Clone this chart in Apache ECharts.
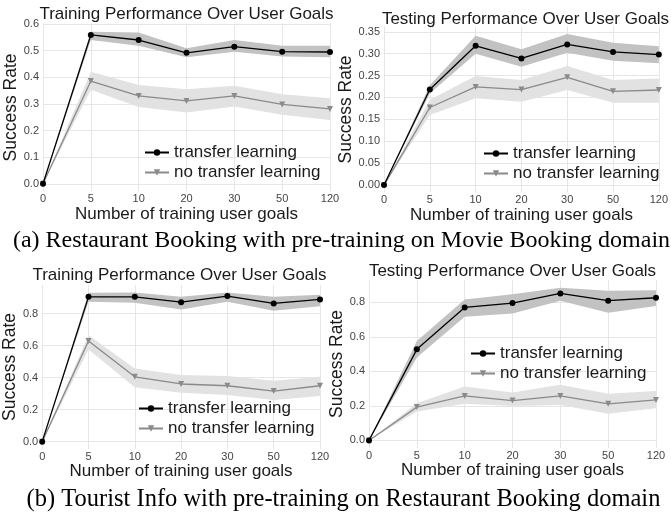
<!DOCTYPE html>
<html>
<head>
<meta charset="utf-8">
<script src="https://cdn.jsdelivr.net/npm/echarts@6/dist/echarts.min.js"></script>
<style>
  html, body { margin: 0; padding: 0; background: #fff; }
  #chart { width: 671px; height: 515px; }
</style>
</head>
<body>
<div id="chart"></div>
<script>
// x categories (number of training user goals)
const categories = ['0', '5', '10', '20', '30', '50', '120'];

// (a) Restaurant Booking, training
const aTrainTransfer   = [0, 0.559, 0.540, 0.492, 0.515, 0.496, 0.495];
const aTrainTransferLo = [0, 0.540, 0.518, 0.475, 0.496, 0.478, 0.475];
const aTrainTransferHi = [0, 0.571, 0.568, 0.509, 0.540, 0.518, 0.518];
const aTrainBase       = [0, 0.386, 0.330, 0.311, 0.330, 0.298, 0.281];
const aTrainBaseLo     = [0, 0.353, 0.288, 0.268, 0.290, 0.259, 0.240];
const aTrainBaseHi     = [0, 0.421, 0.371, 0.355, 0.368, 0.336, 0.321];

// (a) Restaurant Booking, testing
const aTestTransfer   = [0, 0.218, 0.318, 0.289, 0.321, 0.304, 0.298];
const aTestTransferLo = [0, 0.209, 0.300, 0.270, 0.302, 0.284, 0.278];
const aTestTransferHi = [0, 0.228, 0.341, 0.310, 0.345, 0.325, 0.317];
const aTestBase       = [0, 0.177, 0.224, 0.218, 0.246, 0.214, 0.217];
const aTestBaseLo     = [0, 0.160, 0.198, 0.190, 0.217, 0.188, 0.188];
const aTestBaseHi     = [0, 0.195, 0.249, 0.240, 0.272, 0.240, 0.243];

// (b) Tourist Info, training
const bTrainTransfer   = [0, 0.904, 0.904, 0.871, 0.909, 0.863, 0.888];
const bTrainTransferLo = [0, 0.873, 0.867, 0.825, 0.873, 0.817, 0.846];
const bTrainTransferHi = [0, 0.929, 0.931, 0.904, 0.931, 0.904, 0.917];
const bTrainBase       = [0, 0.628, 0.405, 0.360, 0.349, 0.316, 0.349];
const bTrainBaseLo     = [0, 0.576, 0.339, 0.306, 0.291, 0.260, 0.285];
const bTrainBaseHi     = [0, 0.665, 0.457, 0.416, 0.410, 0.380, 0.405];

// (b) Tourist Info, testing
const bTestTransfer   = [0, 0.528, 0.771, 0.796, 0.852, 0.810, 0.827];
const bTestTransferLo = [0, 0.480, 0.717, 0.736, 0.810, 0.740, 0.779];
const bTestTransferHi = [0, 0.576, 0.817, 0.848, 0.885, 0.867, 0.871];
const bTestBase       = [0, 0.193, 0.258, 0.231, 0.258, 0.212, 0.235];
const bTestBaseLo     = [0, 0.168, 0.212, 0.200, 0.206, 0.154, 0.187];
const bTestBaseHi     = [0, 0.216, 0.312, 0.278, 0.322, 0.270, 0.287];

// y tick labels
const aTrainTicks = [0, 0.1, 0.2, 0.3, 0.4, 0.5, 0.6];
const aTestTicks = [0, 0.05, 0.1, 0.15, 0.2, 0.25, 0.3, 0.35];
const bTicks = [0, 0.2, 0.4, 0.6, 0.8];

const captions = [
  '(a) Restaurant Booking with pre-training on Movie Booking domain',
  '(b) Tourist Info with pre-training on Restaurant Booking domain'
];

const FONT = '"Liberation Sans", Arial, sans-serif';
const GRID_COLOR = '#e6e6e6';

// layout of the four panels
const panels = [
  { title: 'Training Performance Over User Goals', titleTop: 5.5, grid: { left: 43, top: 23.5, width: 287, height: 168 },
    min: -0.029, max: 0.602, ticks: aTrainTicks, digits: 1, yGap: 14.5, legend: { left: 144, top: 144 },
    transfer: aTrainTransfer, tLo: aTrainTransferLo, tHi: aTrainTransferHi,
    base: aTrainBase, bLo: aTrainBaseLo, bHi: aTrainBaseHi },
  { title: 'Testing Performance Over User Goals', titleTop: 10.5, grid: { left: 384, top: 26.5, width: 283, height: 166 },
    min: -0.017, max: 0.362, ticks: aTestTicks, digits: 2, yGap: 17, legend: { left: 483, top: 145 },
    transfer: aTestTransfer, tLo: aTestTransferLo, tHi: aTestTransferHi,
    base: aTestBase, bLo: aTestBaseLo, bHi: aTestBaseHi },
  { title: 'Training Performance Over User Goals', titleTop: 267, grid: { left: 39, top: 285, width: 281, height: 164 },
    min: -0.046, max: 0.978, ticks: bTicks, digits: 1, yGap: 15, legend: { left: 138, top: 400 },
    transfer: bTrainTransfer, tLo: bTrainTransferLo, tHi: bTrainTransferHi,
    base: bTrainBase, bLo: bTrainBaseLo, bHi: bTrainBaseHi },
  { title: 'Testing Performance Over User Goals', titleTop: 263, grid: { left: 369, top: 280, width: 287, height: 168 },
    min: -0.044, max: 0.93, ticks: bTicks, digits: 1, yGap: 15.5, legend: { left: 470, top: 345 },
    transfer: bTestTransfer, tLo: bTestTransferLo, tHi: bTestTransferHi,
    base: bTestBase, bLo: bTestBaseLo, bHi: bTestBaseHi }
];

const diff = (hi, lo) => hi.map((v, i) => +(v - lo[i]).toFixed(4));

function bandSeries(i, lo, hi, color, key) {
  return [
    { type: 'line', xAxisIndex: i, yAxisIndex: i, stack: key + i, data: lo,
      symbol: 'none', lineStyle: { opacity: 0 }, silent: true, z: 1 },
    { type: 'line', xAxisIndex: i, yAxisIndex: i, stack: key + i, data: diff(hi, lo),
      symbol: 'none', lineStyle: { opacity: 0 }, areaStyle: { color: color, opacity: 1 }, silent: true, z: 1 }
  ];
}

const option = {
  animation: false,
  backgroundColor: '#fff',
  textStyle: { fontFamily: FONT },
  title: [],
  legend: [],
  grid: [],
  xAxis: [],
  yAxis: [],
  series: []
};

panels.forEach((p, i) => {
  option.grid.push(Object.assign({ containLabel: false }, p.grid));
  option.title.push({
    text: p.title,
    left: p.grid.left + p.grid.width / 2,
    top: p.titleTop,
    textAlign: 'center',
    padding: 0,
    textStyle: { fontFamily: FONT, fontSize: 17, fontWeight: 'normal', color: '#1a1a1a' }
  });
  option.legend.push({
    data: ['transfer learning', 'no transfer learning'],
    left: p.legend.left,
    top: p.legend.top,
    orient: 'vertical',
    padding: 0,
    itemGap: 3,
    itemWidth: 24,
    itemHeight: 8,
    selectedMode: false,
    textStyle: { fontFamily: FONT, fontSize: 17, color: '#1a1a1a', lineHeight: 17 }
  });
  option.xAxis.push({
    type: 'category',
    gridIndex: i,
    data: categories,
    boundaryGap: false,
    axisLine: { show: false },
    axisTick: { show: false },
    axisLabel: { interval: 0, fontSize: 11, color: '#444', margin: 2, fontFamily: FONT },
    splitLine: { show: true, lineStyle: { color: GRID_COLOR } },
    name: 'Number of training user goals',
    nameLocation: 'middle',
    nameGap: 11,
    nameTextStyle: { fontSize: 17, color: '#1a1a1a', fontFamily: FONT }
  });
  option.yAxis.push({
    type: 'value',
    gridIndex: i,
    min: p.min,
    max: p.max,
    axisLine: { show: false },
    axisTick: { show: false, customValues: p.ticks },
    axisLabel: { customValues: p.ticks, formatter: v => v.toFixed(p.digits),
      fontSize: 11, color: '#444', margin: 4, fontFamily: FONT },
    splitLine: { show: true, lineStyle: { color: GRID_COLOR } },
    name: 'Success Rate',
    nameLocation: 'middle',
    nameGap: p.yGap,
    nameTextStyle: { fontSize: 17.5, color: '#1a1a1a', fontFamily: FONT }
  });

  option.series.push(...bandSeries(i, p.bLo, p.bHi, '#e2e2e2', 'base'));
  option.series.push(...bandSeries(i, p.tLo, p.tHi, '#c2c2c2', 'tl'));
  option.series.push({
    name: 'no transfer learning', type: 'line', xAxisIndex: i, yAxisIndex: i, data: p.base,
    symbol: 'triangle', symbolRotate: 180, symbolSize: 6,
    itemStyle: { color: '#8a8a8a' }, lineStyle: { color: '#8a8a8a', width: 1.3 }, z: 3
  });
  option.series.push({
    name: 'transfer learning', type: 'line', xAxisIndex: i, yAxisIndex: i, data: p.transfer,
    symbol: 'circle', symbolSize: 6,
    itemStyle: { color: '#000' }, lineStyle: { color: '#000', width: 1.3 }, z: 4
  });
});

captions.forEach((c, i) => {
  option.title.push({
    text: c,
    left: i === 0 ? 341.5 : 343.5,
    top: i === 0 ? 229 : 487,
    textAlign: 'center',
    padding: 0,
    textStyle: { fontFamily: '"Liberation Serif", "Times New Roman", serif', fontSize: i === 0 ? 24 : 24.5, fontWeight: 'normal', color: '#000' }
  });
});

const chart = echarts.init(document.getElementById('chart'));
chart.setOption(option);
</script>
</body>
</html>
